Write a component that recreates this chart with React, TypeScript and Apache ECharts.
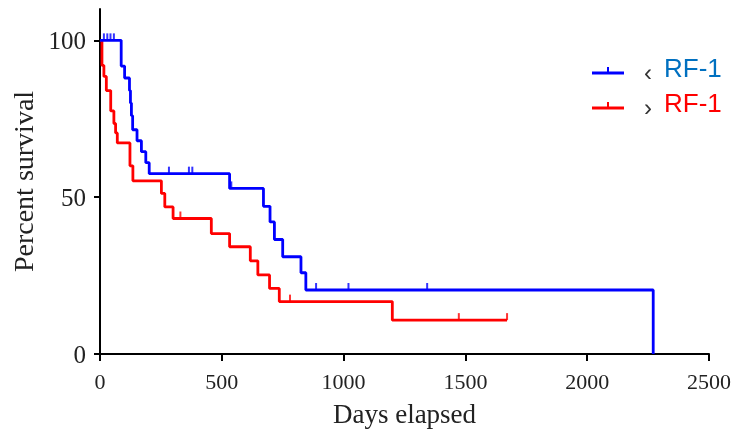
import React, { useEffect, useRef } from "react";
import * as echarts from "echarts";

// Kaplan–Meier step data (days, percent survival)
const blueDays = [0, 87, 101, 121, 125, 129, 134, 152, 170, 188, 202, 532, 671, 698, 716, 750, 825, 845, 2271];
const blueSurv = [100, 91.8, 88, 84, 80, 76, 71.5, 68, 64.5, 61, 57.5, 52.8, 47.1, 42.1, 36.5, 31, 25.9, 20.4, 0];
const blueCensorDays = [16, 30, 43, 57, 283, 365, 379, 539, 887, 1020, 1343];
const blueCensorSurv = [100, 100, 100, 100, 57.5, 57.5, 57.5, 52.8, 20.4, 20.4, 20.4];

const redDays = [0, 8, 16, 26, 44, 57, 64, 71, 123, 135, 252, 266, 300, 457, 532, 617, 648, 696, 736, 1200, 1671];
const redSurv = [100, 92, 88.5, 84, 77.5, 73.5, 70.5, 67.3, 60, 55.2, 51.2, 46.9, 43.2, 38.4, 34.2, 29.7, 25.2, 20.9, 16.7, 10.8, 10.8];
const redCensorDays = [330, 780, 1473, 1671];
const redCensorSurv = [43.2, 16.7, 10.8, 10.8];

const yTicks = [0, 50, 100];
const seriesNames = ["‹ RF-1", "› RF-1"];

const BLUE = "#0000FF";
const RED = "#FF0000";
const SERIF = "'Liberation Serif', 'DejaVu Serif', serif";
const SANS = "'Liberation Sans', Arial, sans-serif";

function zip(a: number[], b: number[]) {
  return a.map((v, i) => [v, b[i]]);
}

export default function App() {
  const ref = useRef<HTMLDivElement>(null);
  useEffect(() => {
    if (!ref.current) return;
    const chart = echarts.init(ref.current, null, { renderer: "svg" });
    const legendRow = (y: number, color: string, arrow: string, label: string) => [
      { type: "line", shape: { x1: 592, y1: y, x2: 624, y2: y }, style: { stroke: color, lineWidth: 3 } },
      { type: "line", shape: { x1: 608, y1: y - 6, x2: 608, y2: y }, style: { stroke: color, lineWidth: 2 } },
      {
        type: "text",
        x: 648,
        y: y - 1,
        style: { text: arrow, fill: "#333", fontSize: 24, fontFamily: SANS, align: "center", verticalAlign: "middle" },
      },
      {
        type: "text",
        x: 664,
        y: y - 5,
        style: { text: label, fill: color === BLUE ? "#0070C0" : RED, fontSize: 26, fontFamily: SANS, align: "left", verticalAlign: "middle" },
      },
    ];
    chart.setOption({
      animation: false,
      grid: { left: 100, right: 23, top: 9, bottom: 81 },
      xAxis: {
        type: "value",
        min: 0,
        max: 2500,
        interval: 500,
        name: "Days elapsed",
        nameLocation: "middle",
        nameGap: 46,
        nameTextStyle: { fontFamily: SERIF, fontSize: 27, color: "#222" },
        axisLine: { lineStyle: { color: "#000", width: 2 } },
        axisTick: { length: 7, lineStyle: { color: "#000", width: 2 } },
        axisLabel: { fontFamily: SERIF, fontSize: 22, color: "#222", margin: 16, formatter: (v: number) => String(v) },
        splitLine: { show: false },
      },
      yAxis: {
        type: "value",
        min: 0,
        max: 110,
        name: "Percent survival",
        nameLocation: "middle",
        nameGap: 60,
        nameTextStyle: { fontFamily: SERIF, fontSize: 28, color: "#222" },
        axisLine: { show: true, lineStyle: { color: "#000", width: 2 } },
        axisTick: { show: true, length: 6, customValues: yTicks, lineStyle: { color: "#000", width: 2 } },
        axisLabel: { fontFamily: SERIF, fontSize: 25, color: "#222", margin: 14, customValues: yTicks },
        splitLine: { show: false },
      },
      series: [
        {
          name: seriesNames[0],
          type: "line",
          step: "end",
          symbol: "none",
          data: zip(blueDays, blueSurv),
          lineStyle: { color: BLUE, width: 2.8 },
          z: 3,
        },
        {
          name: seriesNames[1],
          type: "line",
          step: "end",
          symbol: "none",
          data: zip(redDays, redSurv),
          lineStyle: { color: RED, width: 2.8 },
          z: 2,
        },
        {
          type: "scatter",
          symbol: "rect",
          symbolSize: [2, 7],
          symbolOffset: [0, "-50%"],
          data: zip(blueCensorDays, blueCensorSurv),
          itemStyle: { color: BLUE },
          z: 4,
        },
        {
          type: "scatter",
          symbol: "rect",
          symbolSize: [2, 7],
          symbolOffset: [0, "-50%"],
          data: zip(redCensorDays, redCensorSurv),
          itemStyle: { color: RED },
          z: 4,
        },
      ],
      graphic: [...legendRow(73, BLUE, "‹", "RF-1"), ...legendRow(108, RED, "›", "RF-1")],
    });
    return () => chart.dispose();
  }, []);
  return <div ref={ref} style={{ position: "fixed", left: 0, top: 0, width: 734, height: 435 }} />;
}
